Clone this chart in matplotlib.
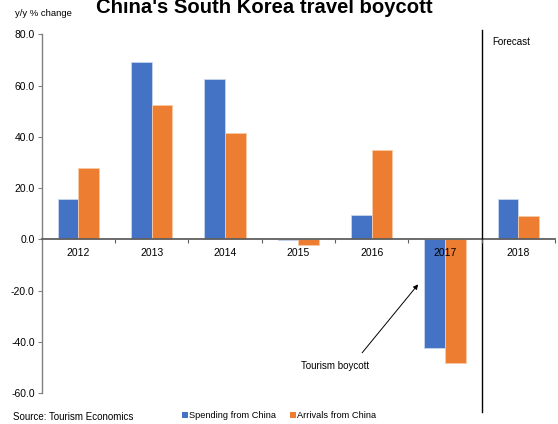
import matplotlib
matplotlib.use("Agg")
import matplotlib.pyplot as plt
from matplotlib.patches import Patch
import numpy as np

plt.rcParams['font.family'] = ['Liberation Sans', 'DejaVu Sans']

years = ["2012", "2013", "2014", "2015", "2016", "2017", "2018"]
spending = [15.7, 69.3, 62.4, -0.3, 9.6, -42.6, 15.7]
arrivals = [27.8, 52.4, 41.6, -2.1, 34.9, -48.1, 9.2]
yticks = [-60, -40, -20, 0, 20, 40, 60, 80]

blue = "#4472C4"
orange = "#ED7D31"

fig = plt.figure(figsize=(5.58, 4.24), dpi=100)
ax = fig.add_axes([41.7/558, 1-393/424, (555-41.7)/558, (393-34.3)/424])

x = np.arange(len(years))
w = 0.2825
ax.bar(x - w/2, spending, w, color=blue, edgecolor="#c9d6ee", linewidth=0.6, zorder=1)
ax.bar(x + w/2, arrivals, w, color=orange, edgecolor="#f7c9a8", linewidth=0.6, zorder=1)

ax.set_xlim(-0.5, len(years) - 0.5)
ax.set_ylim(-60, 80)

for s in ["top", "right"]:
    ax.spines[s].set_visible(False)
ax.spines["left"].set_color("#808080")
ax.spines["left"].set_linewidth(1.0)
ax.spines["bottom"].set_position(("data", 0))
ax.spines["bottom"].set_color("#606060")
ax.spines["bottom"].set_linewidth(1.3)

ax.set_yticks(yticks)
ax.set_yticklabels([f"{v:.1f}" for v in yticks], fontsize=7.5)
ax.tick_params(axis="y", direction="out", length=3, width=0.8, color="#808080", pad=2)

ax.set_xticks(x)
ax.set_xticklabels(years, fontsize=7.5)
ax.tick_params(axis="x", which="major", length=0, pad=6)
ax.set_xticks(np.arange(0.5, len(years), 1.0), minor=True)
ax.tick_params(axis="x", which="minor", direction="out", length=3, width=0.8, color="#606060")
ax.xaxis.set_zorder(4)

# Forecast divider
ax.plot([5.5, 5.5], [81.5, -67.5], color="black", linewidth=1.0, clip_on=False, zorder=3)
ax.text(5.64, 77, "Forecast", fontsize=7, ha="left", va="center")

# Annotation
ax.annotate("", xy=(4.634, -17.6), xytext=(3.87, -44.3),
            arrowprops=dict(arrowstyle="-|>", color="black", lw=0.7,
                            mutation_scale=7, shrinkA=0, shrinkB=0))
ax.text(3.50, -49.5, "Tourism boycott", fontsize=7, ha="center", va="center")

# Titles
fig.text(264.5/558, 1-13/424, "China's South Korea travel boycott", fontsize=14.6,
         fontweight="bold", ha="center", va="baseline")
fig.text(15/558, 1-14/424, "y/y % change", fontsize=6.8, ha="left", va="center")
fig.text(13/558, 1-417/424, "Source: Tourism Economics", fontsize=7, ha="left", va="center")

handles = [Patch(facecolor=blue, edgecolor="none", label="Spending from China"),
           Patch(facecolor=orange, edgecolor="none", label="Arrivals from China")]
fig.legend(handles=handles, loc="center", bbox_to_anchor=(279/558, 1-416/424), ncol=2,
           frameon=False, fontsize=6.7, handlelength=0.6, handleheight=0.6,
           handletextpad=0.15, columnspacing=1.5, borderpad=0)

fig.savefig("out.png", dpi=100)
